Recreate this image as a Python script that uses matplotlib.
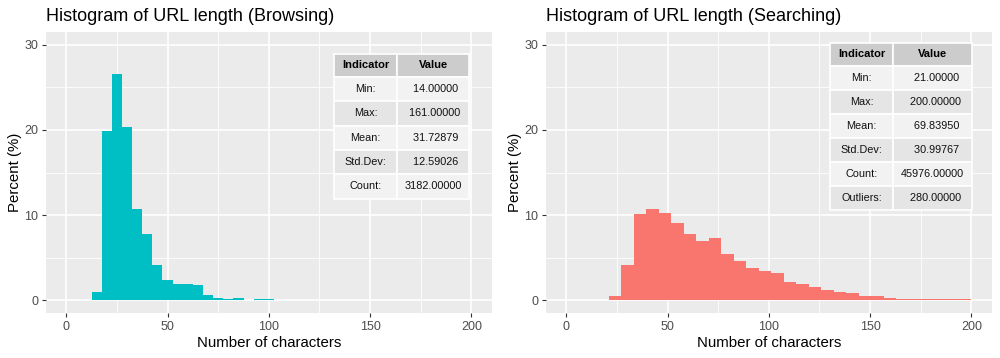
import numpy as np
import matplotlib
matplotlib.use("Agg")
import matplotlib.pyplot as plt
from matplotlib.patches import Rectangle

plt.rcParams['font.family'] = ['Liberation Sans', 'DejaVu Sans']

# ---- data ----
# Browsing: bins 5 characters wide
browse_centers = [15, 20, 25, 30, 35, 40, 45, 50, 55, 60, 65, 70, 75, 80, 85, 90, 95, 100]
browse_pct = [0.94, 19.9, 26.6, 20.35, 10.7, 7.76, 4.12, 2.35, 1.88, 1.88, 1.76,
              0.59, 0.27, 0.14, 0.27, 0.0, 0.18, 0.18]
browse_width = 5.0

# Searching: 29 bins between 21 and 200
search_centers = [24.09, 30.26, 36.43, 42.60, 48.78, 54.95, 61.12, 67.29, 73.47, 79.64,
                  85.81, 91.98, 98.16, 104.33, 110.50, 116.67, 122.84, 129.02, 135.19,
                  141.36, 147.53, 153.71, 159.88, 166.05, 172.22, 178.40, 184.57,
                  190.74, 196.91]
search_pct = [0.51, 4.19, 10.12, 10.71, 10.24, 9.05, 7.75, 6.92, 7.27, 5.38, 4.66, 3.83,
              3.48, 3.24, 2.17, 1.94, 1.58, 1.23, 0.99, 0.87, 0.51, 0.51, 0.28, 0.18,
              0.18, 0.18, 0.1, 0.1, 0.1]
search_width = 179 / 29

browse_labels = ['Min:', 'Max:', 'Mean:', 'Std.Dev:', 'Count:']
browse_values = ['  14.00000', ' 161.00000', '  31.72879', '  12.59026', '3182.00000']

search_labels = ['Min:', 'Max:', 'Mean:', 'Std.Dev:', 'Count:', 'Outliers:']
search_values = ['   21.00000', '  200.00000', '   69.83950', '   30.99767',
                 '45976.00000', '  280.00000']

W, H = 1000, 358
fig = plt.figure(figsize=(W / 100, H / 100), dpi=100)


def fx(x):
    return x / W


def fy(y):
    return 1 - y / H


def make_panel(x0, x1, y0=32, y1=313):
    ax = fig.add_axes([fx(x0), fy(y1), (x1 - x0) / W, (y1 - y0) / H])
    ax.set_facecolor('#EBEBEB')
    for s in ax.spines.values():
        s.set_visible(False)
    ax.set_xlim(-10, 210)
    ax.set_ylim(-1.5, 31.5)
    ax.set_xticks([0, 50, 100, 150, 200])
    ax.set_xticks([25, 75, 125, 175], minor=True)
    ax.set_yticks([0, 10, 20, 30])
    ax.set_yticks([5, 15, 25], minor=True)
    ax.grid(which='major', color='white', lw=1.2)
    ax.grid(which='minor', color='white', lw=0.6)
    ax.set_axisbelow(True)
    ax.tick_params(which='major', length=2.6, width=0.8, color='#333333',
                   labelcolor='#4D4D4D', labelsize=9, pad=3)
    ax.tick_params(which='minor', length=0)
    return ax


def draw_table(left, top, col_w, head_h, row_h, labels, values):
    x_mid = left + col_w[0]
    # header
    for xa, w, txt in [(left, col_w[0], 'Indicator'), (x_mid, col_w[1], 'Value')]:
        fig.add_artist(Rectangle((fx(xa), fy(top + head_h)), w / W, head_h / H,
                                 transform=fig.transFigure, facecolor='#CCCCCC',
                                 edgecolor='white', lw=1.2))
        fig.text(fx(xa + w / 2), fy(top + head_h / 2), txt, ha='center', va='center',
                 fontsize=8, fontweight='bold', color='black')
    # body rows, alternating fills
    for i, (lab, val) in enumerate(zip(labels, values)):
        yt = top + head_h + i * row_h
        fill = '#F2F2F2' if i % 2 == 0 else '#E5E5E5'
        for xa, w, txt in [(left, col_w[0], lab), (x_mid, col_w[1], val)]:
            fig.add_artist(Rectangle((fx(xa), fy(yt + row_h)), w / W, row_h / H,
                                     transform=fig.transFigure, facecolor=fill,
                                     edgecolor='white', lw=1.2))
            fig.text(fx(xa + w / 2), fy(yt + row_h / 2), txt, ha='center', va='center',
                     fontsize=7.8, color='#111111')


ax1 = make_panel(46, 491.7)
ax1.bar(browse_centers, browse_pct, width=browse_width, color='#00BFC4', lw=0)
ax2 = make_panel(546, 991.7)
ax2.bar(search_centers, search_pct, width=search_width, color='#F8766D', lw=0)

for x0, x1, name in [(46, 491.7, 'Browsing'), (546, 991.7, 'Searching')]:
    fig.text(fx(x0), fy(20.7), f'Histogram of URL length ({name})', ha='left',
             va='baseline', fontsize=13, color='black')
    fig.text(fx((x0 + x1) / 2), fy(346.7), 'Number of characters', ha='center',
             va='baseline', fontsize=10.8, color='black')
    fig.text(fx(x0 - 31), fy(172.5), 'Percent (%)', rotation=90, ha='center',
             va='center', fontsize=10.8, color='black')

draw_table(334, 54, (63, 72), 23, 24.3, browse_labels, browse_values)
draw_table(830, 42.7, (63, 79), 23.3, 24, search_labels, search_values)

fig.savefig('out.png', dpi=100)
